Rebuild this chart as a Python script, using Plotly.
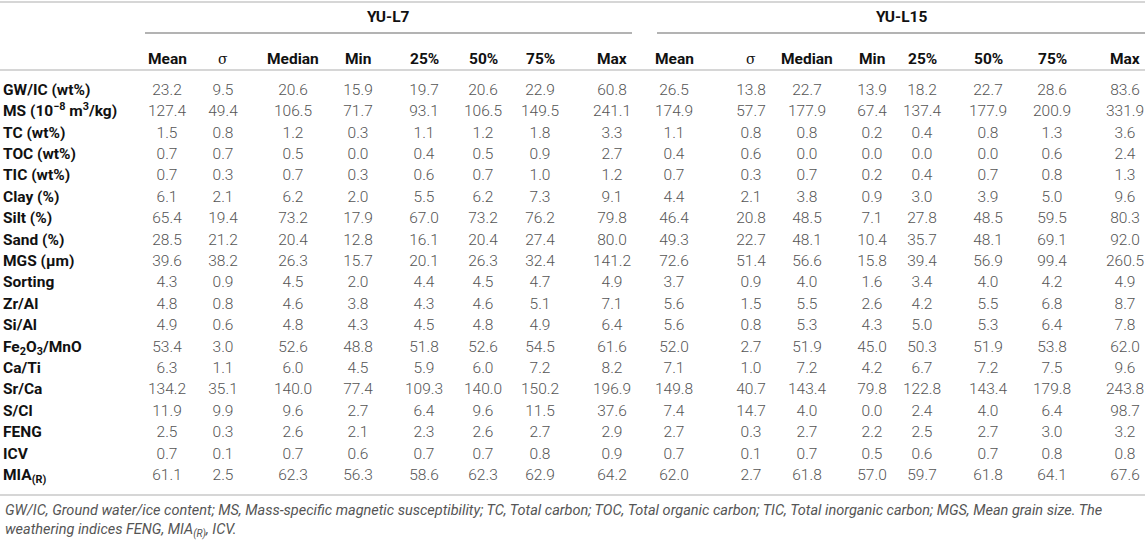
import plotly.graph_objects as go

# row labels (bold, left column)
row_labels = [
    "GW/IC (wt%)", "MS (10<sup>−8</sup> m<sup>3</sup>/kg)", "TC (wt%)", "TOC (wt%)",
    "TIC (wt%)", "Clay (%)", "Silt (%)", "Sand (%)", "MGS (μm)", "Sorting",
    "Zr/Al", "Si/Al", "Fe<sub>2</sub>O<sub>3</sub>/MnO", "Ca/Ti", "Sr/Ca",
    "S/Cl", "FENG", "ICV", "MIA<sub>(R)</sub>",
]

groups = ["YU-L7", "YU-L15"]
stat_labels = ["Mean", "σ", "Median", "Min", "25%", "50%", "75%", "Max"]

# YU-L7 columns
l7_mean = [23.2, 127.4, 1.5, 0.7, 0.7, 6.1, 65.4, 28.5, 39.6, 4.3, 4.8, 4.9, 53.4, 6.3, 134.2, 11.9, 2.5, 0.7, 61.1]
l7_sd = [9.5, 49.4, 0.8, 0.7, 0.3, 2.1, 19.4, 21.2, 38.2, 0.9, 0.8, 0.6, 3.0, 1.1, 35.1, 9.9, 0.3, 0.1, 2.5]
l7_median = [20.6, 106.5, 1.2, 0.5, 0.7, 6.2, 73.2, 20.4, 26.3, 4.5, 4.6, 4.8, 52.6, 6.0, 140.0, 9.6, 2.6, 0.7, 62.3]
l7_min = [15.9, 71.7, 0.3, 0.0, 0.3, 2.0, 17.9, 12.8, 15.7, 2.0, 3.8, 4.3, 48.8, 4.5, 77.4, 2.7, 2.1, 0.6, 56.3]
l7_p25 = [19.7, 93.1, 1.1, 0.4, 0.6, 5.5, 67.0, 16.1, 20.1, 4.4, 4.3, 4.5, 51.8, 5.9, 109.3, 6.4, 2.3, 0.7, 58.6]
l7_p50 = [20.6, 106.5, 1.2, 0.5, 0.7, 6.2, 73.2, 20.4, 26.3, 4.5, 4.6, 4.8, 52.6, 6.0, 140.0, 9.6, 2.6, 0.7, 62.3]
l7_p75 = [22.9, 149.5, 1.8, 0.9, 1.0, 7.3, 76.2, 27.4, 32.4, 4.7, 5.1, 4.9, 54.5, 7.2, 150.2, 11.5, 2.7, 0.8, 62.9]
l7_max = [60.8, 241.1, 3.3, 2.7, 1.2, 9.1, 79.8, 80.0, 141.2, 4.9, 7.1, 6.4, 61.6, 8.2, 196.9, 37.6, 2.9, 0.9, 64.2]

# YU-L15 columns
l15_mean = [26.5, 174.9, 1.1, 0.4, 0.7, 4.4, 46.4, 49.3, 72.6, 3.7, 5.6, 5.6, 52.0, 7.1, 149.8, 7.4, 2.7, 0.7, 62.0]
l15_sd = [13.8, 57.7, 0.8, 0.6, 0.3, 2.1, 20.8, 22.7, 51.4, 0.9, 1.5, 0.8, 2.7, 1.0, 40.7, 14.7, 0.3, 0.1, 2.7]
l15_median = [22.7, 177.9, 0.8, 0.0, 0.7, 3.8, 48.5, 48.1, 56.6, 4.0, 5.5, 5.3, 51.9, 7.2, 143.4, 4.0, 2.7, 0.7, 61.8]
l15_min = [13.9, 67.4, 0.2, 0.0, 0.2, 0.9, 7.1, 10.4, 15.8, 1.6, 2.6, 4.3, 45.0, 4.2, 79.8, 0.0, 2.2, 0.5, 57.0]
l15_p25 = [18.2, 137.4, 0.4, 0.0, 0.4, 3.0, 27.8, 35.7, 39.4, 3.4, 4.2, 5.0, 50.3, 6.7, 122.8, 2.4, 2.5, 0.6, 59.7]
l15_p50 = [22.7, 177.9, 0.8, 0.0, 0.7, 3.9, 48.5, 48.1, 56.9, 4.0, 5.5, 5.3, 51.9, 7.2, 143.4, 4.0, 2.7, 0.7, 61.8]
l15_p75 = [28.6, 200.9, 1.3, 0.6, 0.8, 5.0, 59.5, 69.1, 99.4, 4.2, 6.8, 6.4, 53.8, 7.5, 179.8, 6.4, 3.0, 0.8, 64.1]
l15_max = [83.6, 331.9, 3.6, 2.4, 1.3, 9.6, 80.3, 92.0, 260.5, 4.9, 8.7, 7.8, 62.0, 9.6, 243.8, 98.7, 3.2, 0.8, 67.6]

footnote = ("<i>GW/IC, Ground water/ice content; MS, Mass-specific magnetic susceptibility; TC, Total carbon; "
            "TOC, Total organic carbon; TIC, Total inorganic carbon; MGS, Mean grain size. The<br>"
            "weathering indices FENG, MIA<sub>(R)</sub>, ICV.</i>")

columns = [l7_mean, l7_sd, l7_median, l7_min, l7_p25, l7_p50, l7_p75, l7_max,
           l15_mean, l15_sd, l15_median, l15_min, l15_p25, l15_p50, l15_p75, l15_max]

# layout (pixel-like axis units)
W, H = 1145, 542
col_x = [167, 223, 293, 358, 424, 483, 540, 612,
         674, 751, 807, 872, 922, 988, 1052, 1125]
group_span = [(145, 632), (657, 1145)]
row_y0, row_dy = 91, 21.4
row_y = [row_y0 + i * row_dy for i in range(len(row_labels))]

FONT = "Roboto"
num_color = "#555555"
lab_color = "#111111"

fig = go.Figure()

# row labels
fig.add_trace(go.Scatter(
    x=[3] * len(row_labels), y=row_y, text=[f"<b>{t}</b>" for t in row_labels],
    mode="text", textposition="middle right",
    textfont=dict(family=FONT, size=15.5, color=lab_color),
    hoverinfo="skip", showlegend=False,
))

# data cells
for cx, vals in zip(col_x, columns):
    fig.add_trace(go.Scatter(
        x=[cx] * len(vals), y=row_y, text=[f"{v:.1f}" for v in vals],
        mode="text", textposition="middle center",
        textfont=dict(family=FONT, size=15.5, color=num_color, weight=300),
        hoverinfo="skip", showlegend=False,
    ))

annotations = []
# column headers
for cx, lab in zip(col_x, stat_labels * 2):
    is_sigma = lab == "σ"
    annotations.append(dict(
        x=cx, y=59, text=lab if is_sigma else f"<b>{lab}</b>", showarrow=False,
        xanchor="center", yanchor="middle",
        font=dict(family="DejaVu Serif" if is_sigma else FONT, size=14 if is_sigma else 15.5, color=lab_color),
    ))

shapes = []
# group headers with underline
for g, (x0, x1) in zip(groups, group_span):
    annotations.append(dict(
        x=(x0 + x1) / 2, y=17, text=f"<b>{g}</b>", showarrow=False,
        xanchor="center", yanchor="middle",
        font=dict(family=FONT, size=15.5, color=lab_color),
    ))
    shapes.append(dict(type="line", x0=x0, x1=x1, y0=33, y1=33,
                       line=dict(color="#9a9a9a", width=1.5)))

# horizontal rules
for yy in [2, 70, 495]:
    shapes.append(dict(type="line", x0=0, x1=W, y0=yy, y1=yy,
                       line=dict(color="#d6d6d6", width=2)))

annotations.append(dict(
    x=3, y=521, text=footnote, showarrow=False, xanchor="left", yanchor="middle",
    align="left", font=dict(family=FONT, size=14.5, color="#555555"),
))

fig.update_layout(
    width=W, height=H,
    margin=dict(l=0, r=0, t=0, b=0),
    paper_bgcolor="white", plot_bgcolor="white",
    xaxis=dict(range=[0, W], visible=False, fixedrange=True),
    yaxis=dict(range=[H, 0], visible=False, fixedrange=True),
    annotations=annotations, shapes=shapes,
)

# drop the default body margin so the figure fills the window exactly
fig.write_html("out.html", config={"displayModeBar": False},
               post_script="document.body.style.margin='0';document.body.style.overflow='hidden';")
